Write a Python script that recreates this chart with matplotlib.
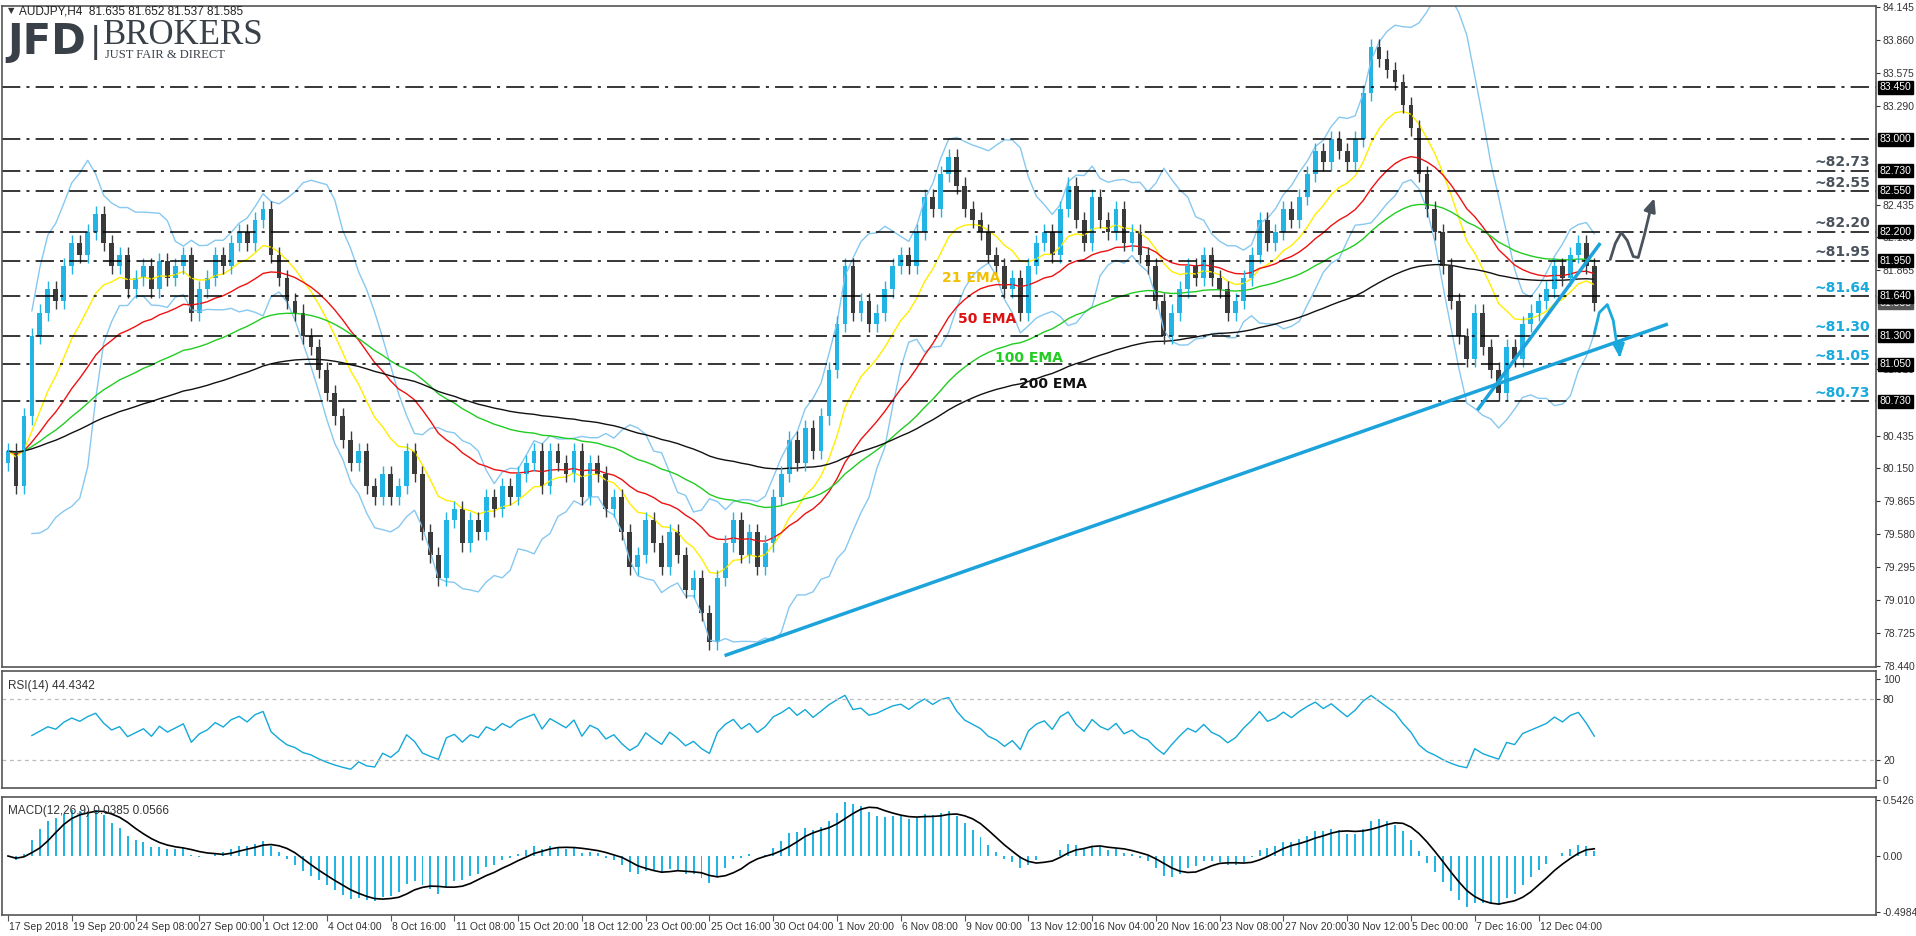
import numpy as np
import pandas as pd
import matplotlib
matplotlib.use("Agg")
import matplotlib.pyplot as plt

# ---------------- data (each value = one 8-hour step, two H4 bars) ----------------
closes = [80.3, 80.0, 80.6, 81.3,
          81.5, 81.7, 81.6, 81.9, 82.1, 82.0, 82.2, 82.35,
          82.1, 81.9, 82.0, 81.7, 81.8, 81.9, 81.7, 81.95, 81.8, 81.9, 82.0,
          81.5, 81.7, 81.8, 82.0, 81.9, 82.1, 82.2, 82.1, 82.3, 82.4,
          82.0, 81.8, 81.6, 81.5, 81.3, 81.2, 81.0, 80.8, 80.6,
          80.4, 80.2, 80.3, 80.0, 79.9, 80.1, 79.9, 80.0, 80.3, 80.1, 79.6, 79.4, 79.2,
          79.7, 79.8, 79.5, 79.7, 79.6, 79.9, 79.8, 80.0, 79.9, 80.1, 80.2, 80.3,
          80.0, 80.3, 80.2, 80.1, 80.3, 79.9, 80.2, 80.1, 79.8, 79.9, 79.6,
          79.3, 79.4, 79.7, 79.5, 79.3, 79.6, 79.4, 79.1, 79.2, 78.9, 78.65,
          79.2, 79.5, 79.7, 79.4, 79.6, 79.3, 79.5, 79.9, 80.1,
          80.4, 80.2, 80.5, 80.3, 80.6, 81.0, 81.4, 81.9,
          81.5, 81.6, 81.4, 81.5, 81.7, 81.9, 82.0, 81.9, 82.2, 82.5, 82.4, 82.7, 82.85,
          82.6, 82.4, 82.3, 82.2, 82.0, 81.9, 81.7, 81.8, 81.5, 81.9, 82.1,
          82.2, 82.0, 82.4, 82.6, 82.3, 82.1, 82.5, 82.3, 82.2, 82.4, 82.1, 82.2, 82.0, 81.9,
          81.6, 81.3, 81.5, 81.7, 81.9, 81.8, 82.0, 81.8, 81.7, 81.5, 81.6,
          81.8, 82.0, 82.3, 82.1, 82.2, 82.4, 82.3, 82.5, 82.7, 82.9,
          82.8, 83.0, 82.9, 82.8, 83.0, 83.4, 83.8,
          83.7, 83.6, 83.5, 83.3, 83.1, 82.7, 82.4, 82.2, 81.9,
          81.6, 81.3, 81.1, 81.5, 81.2, 81.0, 80.8,
          81.2, 81.1, 81.4, 81.5, 81.6, 81.7, 81.9, 81.8, 82.0, 82.1, 81.9, 81.585]

levels = [83.45, 83.0, 82.73, 82.55, 82.2, 81.95, 81.64, 81.3, 81.05, 80.73]
level_notes = ["~82.73", "~82.55", "~82.20", "~81.95", "~81.64", "~81.30", "~81.05", "~80.73"]
note_levels = [82.73, 82.55, 82.2, 81.95, 81.64, 81.3, 81.05, 80.73]
price_ticks = [84.145, 83.860, 83.575, 83.290, 82.435, 82.150, 81.865, 81.010,
               80.435, 80.150, 79.865, 79.580, 79.295, 79.010, 78.725, 78.440]
x_labels = ["17 Sep 2018", "19 Sep 20:00", "24 Sep 08:00", "27 Sep 00:00", "1 Oct 12:00",
            "4 Oct 04:00", "8 Oct 16:00", "11 Oct 08:00", "15 Oct 20:00", "18 Oct 12:00",
            "23 Oct 00:00", "25 Oct 16:00", "30 Oct 04:00", "1 Nov 20:00", "6 Nov 08:00",
            "9 Nov 00:00", "13 Nov 12:00", "16 Nov 04:00", "20 Nov 16:00", "23 Nov 08:00",
            "27 Nov 20:00", "30 Nov 12:00", "5 Dec 00:00", "7 Dec 16:00", "12 Dec 04:00"]
last_price = 81.585

# ---------------- indicators ----------------
s = pd.Series(closes)
ema21 = s.ewm(span=11, adjust=False).mean()
ema50 = s.ewm(span=25, adjust=False).mean()
ema100 = s.ewm(span=50, adjust=False).mean()
ema200 = s.ewm(span=100, adjust=False).mean()
mid = s.rolling(10, min_periods=4).mean()
sd = s.rolling(10, min_periods=4).std(ddof=0)
bb_up, bb_lo = mid + 2 * sd, mid - 2 * sd
d = s.diff()
up = d.clip(lower=0).ewm(alpha=1/7, adjust=False, min_periods=3).mean()
dn = (-d.clip(upper=0)).ewm(alpha=1/7, adjust=False, min_periods=3).mean()
rsi = 100 - 100 / (1 + up / dn.replace(0, 1e-9))
macd = s.ewm(span=6, adjust=False).mean() - s.ewm(span=13, adjust=False).mean()
signal = macd.rolling(5, min_periods=1).mean()

x = np.arange(len(closes)) * 2.0
opens = np.r_[closes[0] - 0.1, closes[:-1]]
cl = np.array(closes)

# ---------------- figure ----------------
W, H = 1916, 936
fig = plt.figure(figsize=(W / 100, H / 100), dpi=100)
plt.rcParams['font.family'] = ['Liberation Sans', 'DejaVu Sans']
def axr(l, t, r, b):
    return fig.add_axes([l / W, 1 - b / H, (r - l) / W, (b - t) / H])
ax = axr(2, 6, 1876, 667)
ar = axr(2, 671, 1876, 788)
am = axr(2, 797, 1876, 915)
XL = (-1.5, (1876 - 2) / 3.99 - 1)
for a in (ax, ar, am):
    a.set_xlim(*XL)
    for sp in a.spines.values():
        sp.set_color("#555555"); sp.set_linewidth(1.2)
    a.yaxis.tick_right()
    a.tick_params(axis='y', labelsize=7.5, colors="#333333", length=3, pad=2)
    a.tick_params(axis='x', bottom=False, labelbottom=False)
YL = (78.43, 84.155)
ax.set_ylim(*YL)

def to_data(xt, yt):
    return (xt - 2) / 3.99, 83.0 - (yt - 139) / 115.3

# bands and EMAs
ax.plot(x, bb_up, color="#87c8f0", lw=1)
ax.plot(x, bb_lo, color="#87c8f0", lw=1)
ax.plot(x, ema21, color="#ffee00", lw=1)
ax.plot(x, ema50, color="#ee1111", lw=1)
ax.plot(x, ema100, color="#22cc22", lw=1)
ax.plot(x, ema200, color="#111111", lw=1)

# candles
for xi, o, c in zip(x, opens, cl):
    col = "#22b4e4" if c >= o else "#3a3a3a"
    hi, lo = max(o, c) + 0.07, min(o, c) - 0.07
    ax.vlines(xi, lo, hi, color=col, lw=1)
    ax.add_patch(plt.Rectangle((xi - 0.6, min(o, c)), 1.2, max(abs(c - o), 0.01),
                               color=col, lw=0))

# levels
for lv in levels:
    ax.axhline(lv, color="black", lw=1.1, ls=(0, (12, 4, 2, 4)))
ax.set_yticks(price_ticks)
ax.set_yticklabels([f"{v:.3f}" for v in price_ticks])
ax.text(1.002, last_price, f"{last_price:.3f}", transform=ax.get_yaxis_transform(),
        fontsize=7.5, color="white", va="center", ha="left",
        bbox=dict(boxstyle="square,pad=0.12", fc="#555555", ec="#555555"))
for lv in levels:
    ax.text(1.002, lv, f"{lv:.3f}", transform=ax.get_yaxis_transform(), fontsize=7.5,
            color="white", va="center", ha="left",
            bbox=dict(boxstyle="square,pad=0.12", fc="black", ec="black"))
for note, lv in zip(level_notes, note_levels):
    col = "#4a535c" if lv > 81.8 else "#1aa9dc"
    xx, _ = to_data(1866, 0)
    ax.text(xx, lv + 0.015, note, fontsize=10, fontweight="bold", color=col,
            ha="right", va="bottom", family="DejaVu Sans")

# EMA labels
for (xt, yt), txt, col in [((937, 277), "21 EMA", "#f0c000"), ((953, 318), "50 EMA", "#e01010"),
                           ((990, 357), "100 EMA", "#22cc22"), ((1014, 383), "200 EMA", "#111111")]:
    ax.text(*to_data(xt, yt), txt, fontsize=10, fontweight="bold", color=col, va="center",
            family="DejaVu Sans")

# trendlines
tl = "#1ca3dc"
p1, p2 = to_data(721, 654), to_data(1662, 324)
ax.plot([p1[0], p2[0]], [p1[1], p2[1]], color=tl, lw=2.5)
p1, p2 = to_data(1474, 408), to_data(1595, 244)
ax.plot([p1[0], p2[0]], [p1[1], p2[1]], color=tl, lw=2.5)

# forecast arrows
def wave(pts, col):
    xs, ys = zip(*[to_data(*p) for p in pts])
    ax.plot(xs[:-1], ys[:-1], color=col, lw=2, solid_capstyle="round")
    ax.annotate("", xy=(xs[-1], ys[-1]), xytext=(xs[-2], ys[-2]),
                arrowprops=dict(arrowstyle="-|>,head_width=0.35,head_length=0.8",
                                color=col, lw=2))
wave([(1606, 259), (1611, 243), (1617, 232), (1623, 240), (1629, 256), (1634, 257),
      (1640, 235), (1646, 210), (1651, 195)], "#4a535c")
wave([(1590, 333), (1595, 312), (1603, 304), (1609, 320), (1612, 340), (1615, 350),
      (1616, 360)], "#1aa9dc")

# header / logo
fig.text(8 / W, 1 - 11 / H, "▼", fontsize=6, color="#333333", va="center",
         family="DejaVu Sans")
fig.text(19 / W, 1 - 11 / H, "AUDJPY,H4  81.635 81.652 81.537 81.585", fontsize=8.5,
         color="#222222", va="center")
fig.text(7 / W, 1 - 42 / H, "JFD", fontsize=30, fontweight="bold", color="#3a4048",
         va="center", family="DejaVu Sans")
fig.text(91 / W, 1 - 42 / H, "|", fontsize=26, color="#3a4048", va="center")
fig.text(103 / W, 1 - 36 / H, "BROKERS", fontsize=25, color="#3a4048", va="center",
         family="Liberation Serif")
fig.text(105 / W, 1 - 55 / H, "JUST FAIR & DIRECT", fontsize=9, color="#3a4048",
         va="center", family="Liberation Serif")

# RSI
ar.plot(x, rsi, color="#12a8d8", lw=1)
ar.set_ylim(-8, 108)
ar.set_yticks([100, 80, 20, 0])
for lv in (20, 80):
    ar.axhline(lv, color="#bbbbbb", lw=0.9, ls=(0, (3, 3)))
ar.text(0.003, 0.92, "RSI(14) 44.4342", transform=ar.transAxes, fontsize=8.5,
        color="#333333", va="top")

# MACD
am.bar(x, macd, width=0.5, color="#22b4e4")
am.plot(x, signal, color="black", lw=1.2)
lim = max(macd.abs().max(), signal.abs().max()) * 1.1
am.set_ylim(-lim, lim)
am.set_yticks([lim * 0.95, 0, -lim * 0.95])
am.set_yticklabels(["0.5426", "0.00", "-0.4984"])
am.text(0.003, 0.93, "MACD(12,26,9) 0.0385 0.0566", transform=am.transAxes, fontsize=8.5,
        color="#333333", va="top")
xt = np.arange(len(x_labels)) * 16.0
am.set_xticks(xt)
am.tick_params(axis='x', bottom=True, length=4, color="#555555")
for pos, lab in zip(xt, x_labels):
    am.text(pos + 0.3, -0.06, lab, transform=am.get_xaxis_transform(), fontsize=7.5,
            color="#333333", ha="left", va="top")

fig.savefig("out.png", dpi=100)
